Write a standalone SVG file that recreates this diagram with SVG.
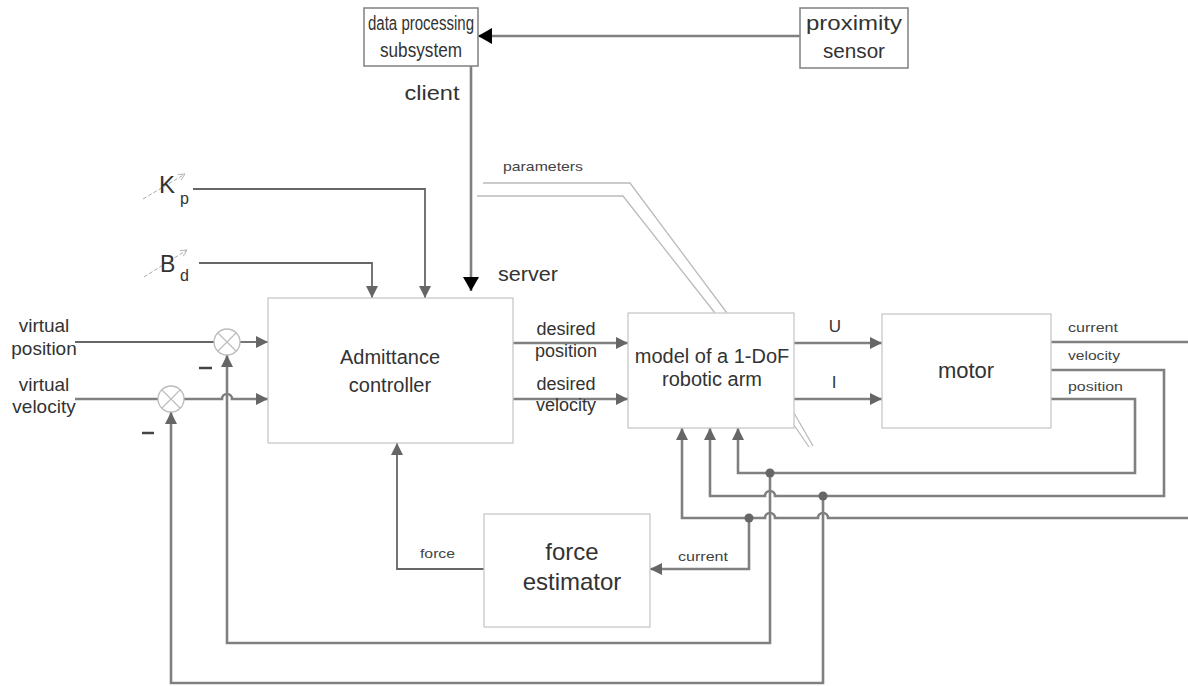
<svg xmlns="http://www.w3.org/2000/svg" width="1188" height="686" viewBox="0 0 1188 686">
<defs>
<style>
.box{fill:#fff;stroke:#c8c8c8;stroke-width:1.3}
.tbox{fill:#fff;stroke:#888;stroke-width:1.6}
.w{fill:none;stroke:#808080;stroke-width:2.6}
.wt{fill:none;stroke:#666;stroke-width:1.8}
.par{fill:none;stroke:#bbb;stroke-width:1.3}
.t{font-family:"Liberation Sans",Arial,sans-serif;fill:#333;text-anchor:middle}
.tn{font-family:"Liberation Sans Narrow","Liberation Sans",Arial,sans-serif;fill:#333;text-anchor:middle}
.s{font-family:"Liberation Sans",Arial,sans-serif;fill:#444;font-size:13px}
.dot{fill:#666}
.sum{fill:#fff;stroke:#bbb;stroke-width:1.3}
.sx{stroke:#bbb;stroke-width:1.1}
</style>
<marker id="ag" viewBox="0 0 12 12" refX="12" refY="6" markerWidth="13" markerHeight="12" markerUnits="userSpaceOnUse" orient="auto"><path d="M0,0 L12,6 L0,12 z" fill="#666"/></marker>
<marker id="ab" viewBox="0 0 14 16" refX="14" refY="8" markerWidth="14" markerHeight="18" markerUnits="userSpaceOnUse" orient="auto"><path d="M0,0 L14,8 L0,16 z" fill="#000"/></marker>
<marker id="av" viewBox="0 0 10 10" refX="10" refY="5" markerWidth="8" markerHeight="8" markerUnits="userSpaceOnUse" orient="auto"><path d="M2,1 L10,5 L2,9" fill="none" stroke="#aaa" stroke-width="1"/></marker>
</defs>
<rect width="1188" height="686" fill="#fff"/>

<g id="connectors">
<path class="w" d="M800,36 H478" marker-end="url(#ab)"/>
<path class="w" d="M471,66 V291" marker-end="url(#ab)"/>
<path class="par" d="M483,183 H630 L727,313"/>
<path class="par" d="M477,196 H623 L715,313"/>
<path class="par" d="M790,406 L813,446"/>
<path class="par" d="M785,412 L809,447"/>
<path class="wt" d="M193,189 H425 V298" marker-end="url(#ag)"/>
<path class="wt" d="M199,263 H372 V298" marker-end="url(#ag)"/>
<path class="wt" d="M75,342 H214"/>
<path class="wt" d="M240,342 H268" marker-end="url(#ag)"/>
<path class="w" d="M75,399 H158"/>
<path class="w" d="M184,399 H222 A5,5 0 0 1 232,399 H268" marker-end="url(#ag)"/>
<path class="w" d="M513,343 H628" marker-end="url(#ag)"/>
<path class="w" d="M513,399 H628" marker-end="url(#ag)"/>
<path class="w" d="M794,343 H882" marker-end="url(#ag)"/>
<path class="w" d="M794,399 H882" marker-end="url(#ag)"/>
<path class="w" d="M1051,342 H1188"/>
<path class="w" d="M1051,399 H1135 V473 H738 V428" marker-end="url(#ag)"/>
<path class="w" d="M1051,370 H1164 V496 H775 A5,5 0 0 0 765,496 H710 V428" marker-end="url(#ag)"/>
<path class="w" d="M1188,518 H828 A5,5 0 0 0 818,518 H775 A5,5 0 0 0 765,518 H682 V428" marker-end="url(#ag)"/>
<path class="w" d="M770,473 V643 H227 V355" marker-end="url(#ag)"/>
<path class="w" d="M823,496 V683 H171 V412" marker-end="url(#ag)"/>
<path class="w" d="M749,518 V569 H650" marker-end="url(#ag)"/>
<path class="wt" d="M484,569 H397 V443" marker-end="url(#ag)"/>
<circle class="dot" cx="770" cy="473" r="4.5"/>
<circle class="dot" cx="823" cy="496" r="4.5"/>
<circle class="dot" cx="749" cy="518" r="4.5"/>
</g>

<g id="data-processing">
<rect class="tbox" x="364" y="8" width="114" height="58"/>
<text class="tn" x="421" y="30" font-size="20" textLength="106" lengthAdjust="spacingAndGlyphs">data processing</text>
<text class="tn" x="421" y="57" font-size="20" textLength="82" lengthAdjust="spacingAndGlyphs">subsystem</text>
</g>
<g id="proximity-sensor">
<rect class="tbox" x="800" y="8" width="108" height="60"/>
<text class="tn" x="854" y="30" font-size="20" textLength="96" lengthAdjust="spacingAndGlyphs">proximity</text>
<text class="tn" x="854" y="58" font-size="20" textLength="62" lengthAdjust="spacingAndGlyphs">sensor</text>
</g>
<g id="client-server-labels">
<text class="tn" x="432" y="100" font-size="20" textLength="55" lengthAdjust="spacingAndGlyphs">client</text>
<text class="tn" x="528" y="281" font-size="21" textLength="60" lengthAdjust="spacingAndGlyphs">server</text>
<text class="s" x="503" y="171" font-size="12" textLength="80" lengthAdjust="spacingAndGlyphs">parameters</text>
</g>

<g id="kp">
<line x1="143" y1="199" x2="185" y2="174" stroke="#aaa" stroke-width="1" stroke-dasharray="4,2" marker-end="url(#av)"/>
<text x="159" y="193" font-family="Liberation Sans,Arial,sans-serif" font-size="24" fill="#333">K</text>
<text x="180" y="204" font-family="Liberation Sans,Arial,sans-serif" font-size="16" fill="#333">p</text>
</g>
<g id="bd">
<line x1="144" y1="277" x2="187" y2="250" stroke="#aaa" stroke-width="1" stroke-dasharray="4,2" marker-end="url(#av)"/>
<text x="160" y="272" font-family="Liberation Sans,Arial,sans-serif" font-size="23" fill="#333">B</text>
<text x="180" y="281" font-family="Liberation Sans,Arial,sans-serif" font-size="16" fill="#333">d</text>
</g>

<g id="inputs">
<text class="t" x="44" y="332" font-size="19">virtual</text>
<text class="t" x="44" y="355" font-size="19">position</text>
<text class="t" x="44" y="391" font-size="19">virtual</text>
<text class="t" x="44" y="413" font-size="19">velocity</text>
</g>

<g id="sum-position">
<circle class="sum" cx="227" cy="342" r="13"/>
<line class="sx" x1="218" y1="333" x2="236" y2="351"/>
<line class="sx" x1="236" y1="333" x2="218" y2="351"/>
<line x1="199" y1="368" x2="212" y2="368" stroke="#444" stroke-width="2.5"/>
</g>
<g id="sum-velocity">
<circle class="sum" cx="171" cy="399" r="13"/>
<line class="sx" x1="162" y1="390" x2="180" y2="408"/>
<line class="sx" x1="180" y1="390" x2="162" y2="408"/>
<line x1="142" y1="433" x2="154" y2="433" stroke="#444" stroke-width="2.5"/>
</g>

<g id="admittance-controller">
<rect class="box" x="268" y="298" width="245" height="145"/>
<text class="t" x="390" y="364" font-size="20">Admittance</text>
<text class="t" x="390" y="392" font-size="20">controller</text>
</g>
<g id="desired-labels">
<text class="t" x="566" y="335" font-size="18">desired</text>
<text class="t" x="566" y="357" font-size="18">position</text>
<text class="t" x="566" y="390" font-size="18">desired</text>
<text class="t" x="566" y="411" font-size="18">velocity</text>
</g>
<g id="model">
<rect class="box" x="628" y="313" width="166" height="115"/>
<text class="t" x="712" y="363" font-size="20">model of a 1-DoF</text>
<text class="t" x="712" y="386" font-size="20">robotic arm</text>
<text class="t" x="835" y="332" font-size="17">U</text>
<text class="t" x="834" y="388" font-size="17">I</text>
</g>
<g id="motor">
<rect class="box" x="882" y="314" width="169" height="114"/>
<text class="t" x="966" y="378" font-size="22">motor</text>
<text class="s" x="1068" y="332" textLength="50" lengthAdjust="spacingAndGlyphs">current</text>
<text class="s" x="1068" y="360" textLength="52" lengthAdjust="spacingAndGlyphs">velocity</text>
<text class="s" x="1068" y="391" textLength="55" lengthAdjust="spacingAndGlyphs">position</text>
</g>
<g id="force-estimator">
<rect class="box" x="484" y="514" width="166" height="113"/>
<text class="t" x="572" y="560" font-size="24">force</text>
<text class="t" x="572" y="590" font-size="24">estimator</text>
<text class="s" x="420" y="558" textLength="35" lengthAdjust="spacingAndGlyphs">force</text>
<text class="s" x="678" y="561" textLength="50" lengthAdjust="spacingAndGlyphs">current</text>
</g>
</svg>
